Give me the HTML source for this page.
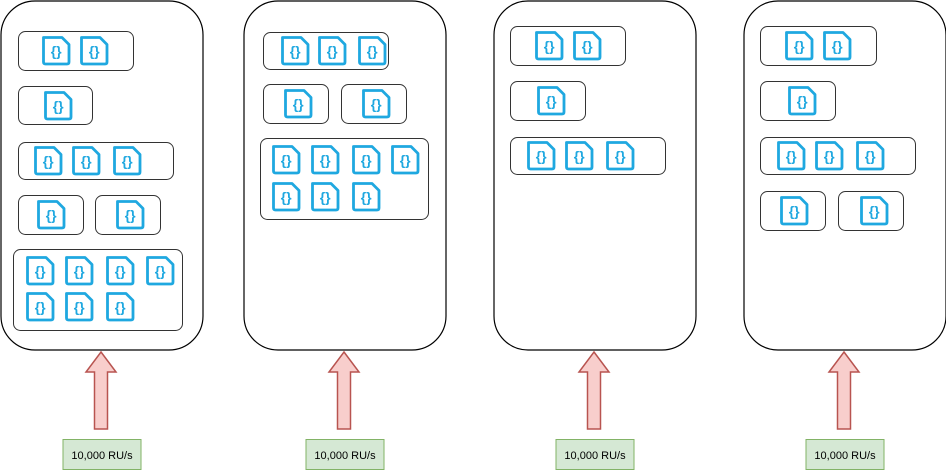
<!DOCTYPE html>
<html><head><meta charset="utf-8"><style>
html,body{margin:0;padding:0;background:#fff;}
svg{display:block;}
text{font-family:"Liberation Sans",sans-serif;}
</style></head><body>
<svg id="s" width="946" height="471" viewBox="0 0 946 471"></svg>
<script>
const NS='http://www.w3.org/2000/svg';
const svg=document.getElementById('s');
const containers=[0,243,493,743];
const boxes=[
 [18,31,115,39,[[42,36],[80,36]]],
 [18,86,74,38,[[44,91]]],
 [18,142,155,37,[[34,146],[72,146],[113,146]]],
 [18,195,65,39,[[37,200]]],
 [95,195,65,39,[[116,200]]],
 [13,249,169,81,[[26,256],[65,256],[106,256],[146,256],[26,292],[65,292],[106,292]]],
 [263,32,125,37,[[281,36],[318,36],[358,36]]],
 [263,84,65,39,[[284,89]]],
 [341,84,65,39,[[362,89]]],
 [260,138,168,81,[[272,145],[311,145],[352,145],[391,145],[272,182],[311,182],[352,182]]],
 [510,26,115,39,[[535,31],[573,31]]],
 [510,81,75,39,[[537,86]]],
 [510,137,155,37,[[527,141],[565,141],[606,141]]],
 [760,26,116,39,[[785,31],[823,31]]],
 [760,81,75,39,[[788,86]]],
 [760,137,155,37,[[777,141],[815,141],[856,141]]],
 [760,191,65,39,[[780,196]]],
 [838,191,65,39,[[860,196]]]
];
function mk(t,a,p){const e=document.createElementNS(NS,t);for(const k in a)e.setAttribute(k,a[k]);(p||svg).appendChild(e);return e;}
containers.forEach((x,i)=>{
 const r=mk('rect',{x:x+1,y:1,width:202,height:349,rx:34,ry:34,fill:'#fff',stroke:'#000','stroke-width':1.2});
 
 
});
boxes.forEach((b,i)=>{
 const r=mk('rect',{x:b[0]+.5,y:b[1]+.5,width:b[2],height:b[3],rx:7,ry:7,fill:'#fff',stroke:'#333','stroke-width':1});
 
 
 b[4].forEach(p=>{
  const g=mk('g',{transform:'translate('+p[0]+','+p[1]+')'});
  
  
  mk('path',{d:'M1.5 1.5 H20 L27 8.5 V26 Q27 28 25 28 H3.5 Q1.5 28 1.5 26 Z',fill:'#fff',stroke:'#1fa8e0','stroke-width':2.8,'stroke-linejoin':'round'},g);
  const t=mk('text',{x:14.2,y:20,'text-anchor':'middle','font-size':14,'font-weight':'bold',fill:'#1fa8e0'},g);
  t.textContent='{}';
 });
});
containers.forEach((x,i)=>{
 const c=x+101;
 const a=mk('path',{d:`M${c} 352 L${c+15} 372 H${c+6.5} V429 H${c-6.5} V372 H${c-15} Z`,fill:'#f8cecc',stroke:'#b85450','stroke-width':1.5,'stroke-linejoin':'miter'});
 
 
 const r=mk('rect',{x:c-38,y:439.5,width:78,height:30,fill:'#d5e8d4',stroke:'#82b366','stroke-width':1});
 
 
 const t=mk('text',{x:c+1,y:459,'text-anchor':'middle','font-size':11,fill:'#000'});
 t.textContent='10,000 RU/s';
 
 
});
</script>
</body></html>
